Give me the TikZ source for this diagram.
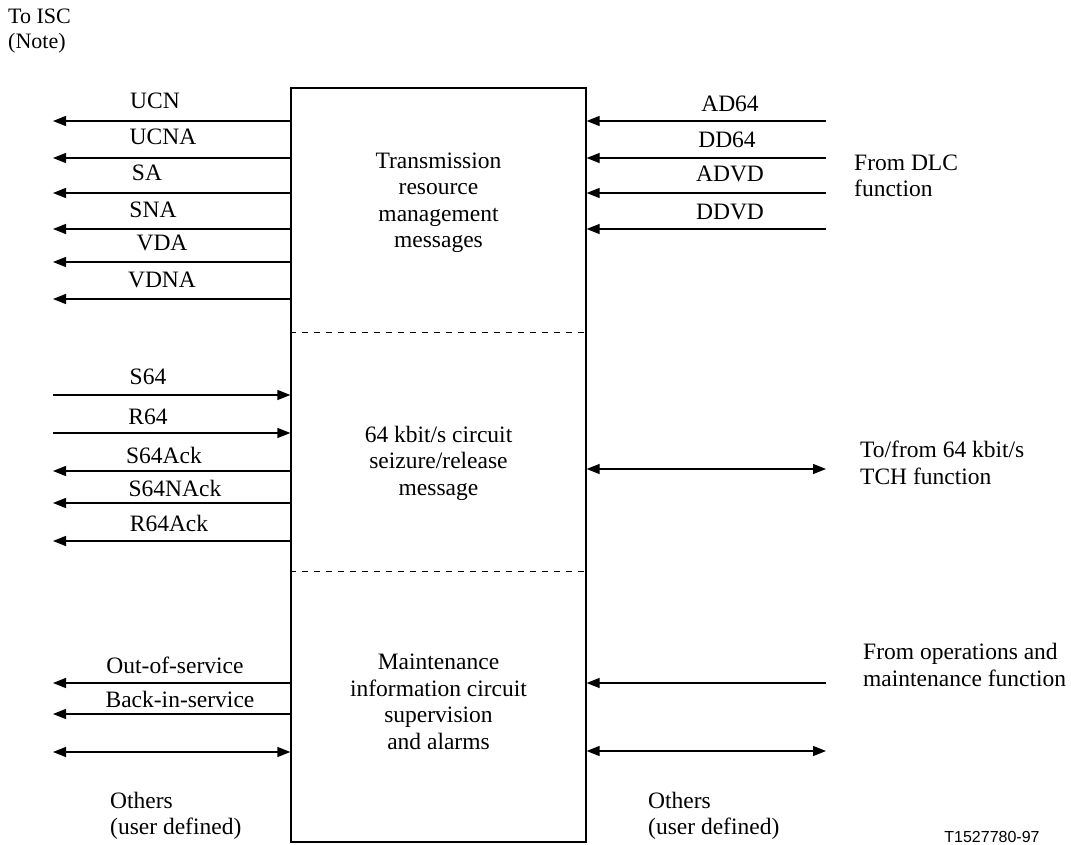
\documentclass[tikz,border=0pt]{standalone}
\usepackage{fontspec}
\setmainfont{Liberation Serif}
\newfontfamily\labelsans{Liberation Sans}
\usetikzlibrary{arrows.meta}
\begin{document}
\begin{tikzpicture}[x=1pt,y=-1pt,
  every node/.style={inner sep=0pt, font=\fontsize{23.5}{26.5}\selectfont},
  blocktext/.style={align=center},
  sidetext/.style={align=left, anchor=west},
  sig/.style={line width=1.2pt, -{Triangle[length=13pt,width=10pt]}},
  bidir/.style={line width=1.2pt, {Triangle[length=13pt,width=10pt]}-{Triangle[length=13pt,width=10pt]}},
  divider/.style={line width=1pt, dash pattern=on 6pt off 6pt}]
\useasboundingbox (0,0) rectangle (1071,845);

% central function block
\node[draw, line width=1.2pt, minimum width=295pt, minimum height=754pt] (box) at (438.5,465) {};
\draw[divider] (box.west |- 0,332) -- (box.east |- 0,332);
\draw[divider] (box.west |- 0,571) -- (box.east |- 0,571);

\node[blocktext] (trm) at (438.5,203) {Transmission\\resource\\management\\messages};
\node[blocktext] (csr) at (438.5,463) {64 kbit/s circuit\\seizure/release\\message};
\node[blocktext] (mnt) at (438.5,702) {Maintenance\\information circuit\\supervision\\and alarms};

% left side: free ends
\node[sidetext, font=\fontsize{22}{24.5}\selectfont] (isc) at (8,31) {To ISC\\(Note)};
\foreach \n/\y in {l1/121,l2/158,l3/193,l4/229,l5/262,l6/299,
                   l7/395,l8/433,l9/471,l10/503,l11/541,
                   l12/683,l13/714,l14/752}
  \coordinate (\n) at (53,\y);

% right side: free ends
\foreach \n/\y in {r1/121,r2/158,r3/193,r4/229,r5/469,r6/683,r7/751}
  \coordinate (\n) at (826,\y);

% transmission resource management (outgoing)
\foreach \n in {l1,l2,l3,l4,l5,l6}
  \draw[sig] (\n -| box.west) -- (\n);
\node (ucn)  at (155,101) {UCN};
\node (ucna) at (163,137) {UCNA};
\node (sa)   at (147,173) {SA};
\node (sna)  at (153,210) {SNA};
\node (vda)  at (162,243) {VDA};
\node (vdna) at (162,280) {VDNA};

% circuit seizure/release
\draw[sig] (l7) -- (l7 -| box.west);
\draw[sig] (l8) -- (l8 -| box.west);
\foreach \n in {l9,l10,l11}
  \draw[sig] (\n -| box.west) -- (\n);
\node (s64)    at (148,377) {S64};
\node (r64)    at (148,417) {R64};
\node (s64a)   at (164,455) {S64Ack};
\node (s64na)  at (175,488) {S64NAck};
\node (r64a)   at (169,523) {R64Ack};

% maintenance
\draw[sig] (l12 -| box.west) -- (l12);
\draw[sig] (l13 -| box.west) -- (l13);
\draw[bidir] (l14) -- (l14 -| box.west);
\node (oos) at (175,665) {Out-of-service};
\node (bis) at (180,699) {Back-in-service};
\node[sidetext] (othl) at (110,816) {Others\\(user defined)};

% right side connectors
\foreach \n in {r1,r2,r3,r4,r6}
  \draw[sig] (\n) -- (\n -| box.east);
\draw[bidir] (r5 -| box.east) -- (r5);
\draw[bidir] (r7 -| box.east) -- (r7);
\node (ad64) at (730,104) {AD64};
\node (dd64) at (727,140) {DD64};
\node (advd) at (730,174) {ADVD};
\node (ddvd) at (730,212) {DDVD};
\node[sidetext] (dlc) at (854,176) {From DLC\\function};
\node[sidetext] (tch) at (860,463) {To/from 64 kbit/s\\TCH function};
\node[sidetext] (om)  at (863,665) {From operations and\\maintenance function};
\node[sidetext] (othr) at (648,816) {Others\\(user defined)};

\node[font=\labelsans\fontsize{16}{18}\selectfont] (ref) at (992,837) {T1527780-97};
\end{tikzpicture}
\end{document}
